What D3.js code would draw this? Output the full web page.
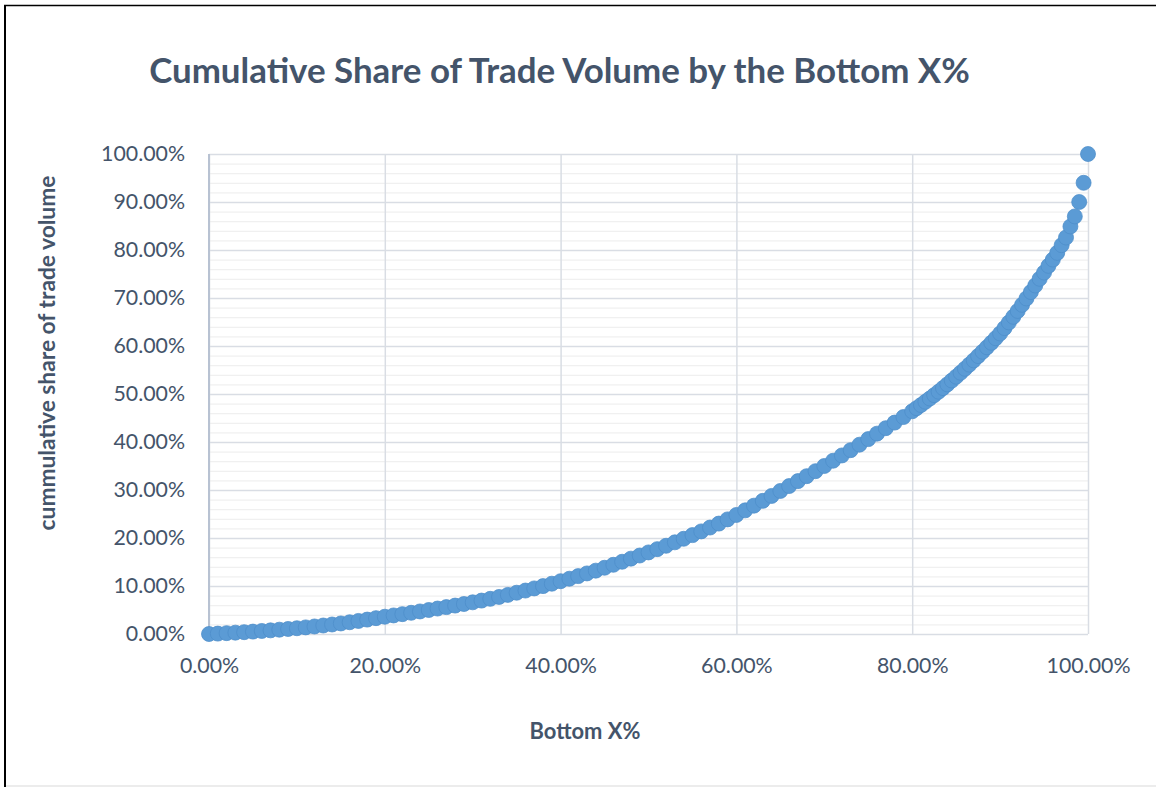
<!DOCTYPE html>
<html lang="en">
<head>
    <meta charset="UTF-8">
    <title>Cumulative Share of Trade Volume</title>
    <script src="https://d3js.org/d3.v7.min.js"></script>
    <style>
        body { margin: 0; padding: 0; background: #fff; }
        svg { display: block; font-family: Lato, "Open Sans", sans-serif; }
        .tick-label { fill: #44546a; }
        .title { fill: #44546a; font-weight: bold; }
        .axis-title { fill: #44546a; font-weight: bold; }
    </style>
</head>
<body>
    <svg id="chart" width="1156" height="787"></svg>
    <script>
        // Bottom X% (percent of traders, sorted ascending)
        const bottomX = [
            0, 1, 2, 3, 4, 5, 6, 7, 8, 9,
            10, 11, 12, 13, 14, 15, 16, 17, 18, 19,
            20, 21, 22, 23, 24, 25, 26, 27, 28, 29,
            30, 31, 32, 33, 34, 35, 36, 37, 38, 39,
            40, 41, 42, 43, 44, 45, 46, 47, 48, 49,
            50, 51, 52, 53, 54, 55, 56, 57, 58, 59,
            60, 61, 62, 63, 64, 65, 66, 67, 68, 69,
            70, 71, 72, 73, 74, 75, 76, 77, 78, 79,
            80, 80.5, 81, 81.5, 82, 82.5, 83, 83.5, 84, 84.5,
            85, 85.5, 86, 86.5, 87, 87.5, 88, 88.5, 89, 89.5,
            90, 90.5, 91, 91.5, 92, 92.5, 93, 93.5, 94, 94.5,
            95, 95.5, 96, 96.5, 97, 97.5, 98, 98.5, 99, 99.5,
            100
        ];
        // cumulative share of trade volume (%)
        const cumShare = [
            0, 0.08, 0.18, 0.28, 0.38, 0.5, 0.63, 0.76, 0.9, 1.05,
            1.2, 1.38, 1.57, 1.77, 1.98, 2.2, 2.45, 2.72, 3.0, 3.3,
            3.6, 3.87, 4.14, 4.42, 4.7, 5.0, 5.3, 5.6, 5.92, 6.25,
            6.6, 6.96, 7.33, 7.72, 8.15, 8.6, 9.05, 9.5, 9.98, 10.48,
            11.0, 11.52, 12.06, 12.62, 13.2, 13.8, 14.42, 15.05, 15.7, 16.35,
            17.0, 17.68, 18.38, 19.1, 19.84, 20.6, 21.38, 22.18, 23.0, 23.88,
            24.8, 25.76, 26.74, 27.74, 28.76, 29.8, 30.82, 31.85, 32.88, 33.92,
            35.0, 36.1, 37.2, 38.3, 39.44, 40.6, 41.74, 42.88, 44.04, 45.2,
            46.4, 47.05, 47.7, 48.38, 49.06, 49.76, 50.48, 51.23, 52.0, 52.8,
            53.6, 54.42, 55.26, 56.12, 57.0, 57.9, 58.8, 59.72, 60.66, 61.62,
            62.6, 63.73, 64.9, 66.08, 67.3, 68.58, 69.9, 71.24, 72.6, 74.0,
            75.3, 76.7, 78.0, 79.4, 81.0, 82.6, 84.9, 87.0, 90.0, 94.0,
            100
        ];
        const xTicks = [0, 20, 40, 60, 80, 100];
        const yTicks = [0, 10, 20, 30, 40, 50, 60, 70, 80, 90, 100];
        const yMinorTicks = d3.range(0, 100, 2).filter(v => v % 10 !== 0);

        const chartTitle = "Cumulative Share of Trade Volume by the Bottom X%";
        const xTitle = "Bottom X%";
        const yTitle = "cummulative share of trade volume";

        const data = bottomX.map((x, i) => ({ x: x, y: cumShare[i] }));

        const svg = d3.select("#chart");
        const margin = { top: 154, right: 68, bottom: 153, left: 209 };
        const width = +svg.attr("width") - margin.left - margin.right;
        const height = +svg.attr("height") - margin.top - margin.bottom;

        // outer frame (cropped chart border)
        svg.append("line").attr("x1", 5).attr("x2", 5).attr("y1", 5).attr("y2", 787)
            .attr("stroke", "#000").attr("stroke-width", 2);
        svg.append("line").attr("x1", 4).attr("x2", 1156).attr("y1", 5.5).attr("y2", 5.5)
            .attr("stroke", "#000").attr("stroke-width", 1.5);
        svg.append("line").attr("x1", 6).attr("x2", 1156).attr("y1", 786).attr("y2", 786)
            .attr("stroke", "#e6e6e6").attr("stroke-width", 1.5);

        const g = svg.append("g").attr("transform", `translate(${margin.left},${margin.top})`);

        const x = d3.scaleLinear().domain([0, 100]).range([0, width]);
        const y = d3.scaleLinear().domain([0, 100]).range([height, 0]);
        const fmt = d => d.toFixed(2) + "%";

        // minor gridlines
        g.append("g")
            .call(d3.axisLeft(y).tickValues(yMinorTicks).tickSize(-width).tickFormat(""))
            .call(a => a.select(".domain").remove())
            .selectAll("line").attr("stroke", "#f0f0f0").attr("stroke-width", 1.3);

        // major horizontal gridlines + labels
        const yAxis = g.append("g")
            .call(d3.axisLeft(y).tickValues(yTicks).tickSize(-width).tickPadding(24).tickFormat(fmt));
        yAxis.select(".domain").remove();
        yAxis.selectAll("line").attr("stroke", "#d9dde4").attr("stroke-width", 1.5);

        // vertical gridlines + labels
        const xAxis = g.append("g")
            .attr("transform", `translate(0,${height})`)
            .call(d3.axisBottom(x).tickValues(xTicks).tickSize(-height).tickPadding(0).tickFormat(fmt));
        xAxis.select(".domain").remove();
        xAxis.selectAll("line").attr("stroke", "#d9dde4").attr("stroke-width", 1.5);
        xAxis.selectAll("text").attr("y", 32).attr("dy", "0.35em");

        // left axis line
        g.append("line").attr("x1", 0).attr("x2", 0).attr("y1", 0).attr("y2", height)
            .attr("stroke", "#b8c2d2").attr("stroke-width", 2);

        // tick label styling, fitted so "100.00%" is about 84px wide
        const allTicks = svg.selectAll(".tick text").attr("class", "tick-label")
            .attr("font-family", "Lato, 'Open Sans', sans-serif").attr("font-size", 20);
        const probe = yAxis.selectAll("text").filter(d => d === 100).node();
        const ts = 20 * 84 / probe.getComputedTextLength();
        allTicks.attr("font-size", ts);

        // markers
        g.append("g").selectAll("circle")
            .data(data)
            .enter().append("circle")
            .attr("cx", d => x(d.x))
            .attr("cy", d => y(d.y))
            .attr("r", 7.5)
            .attr("fill", "#5b9bd5")
            .attr("stroke", "#4d8dc9")
            .attr("stroke-width", 0.75);

        function fitText(sel, target, base) {
            sel.attr("font-size", base);
            const w = sel.node().getComputedTextLength();
            sel.attr("font-size", base * target / w);
        }

        const title = svg.append("text").attr("class", "title")
            .attr("x", 559.5).attr("y", 83).attr("text-anchor", "middle").text(chartTitle);
        fitText(title, 821, 30);

        const xt = svg.append("text").attr("class", "axis-title")
            .attr("x", 585).attr("y", 731).attr("dy", "0.35em").attr("text-anchor", "middle").text(xTitle);
        fitText(xt, 111, 18);

        const yt = svg.append("text").attr("class", "axis-title")
            .attr("transform", "translate(47,353) rotate(-90)")
            .attr("dy", "0.35em").attr("text-anchor", "middle").text(yTitle);
        fitText(yt, 355, 18);
    </script>
</body>
</html>
